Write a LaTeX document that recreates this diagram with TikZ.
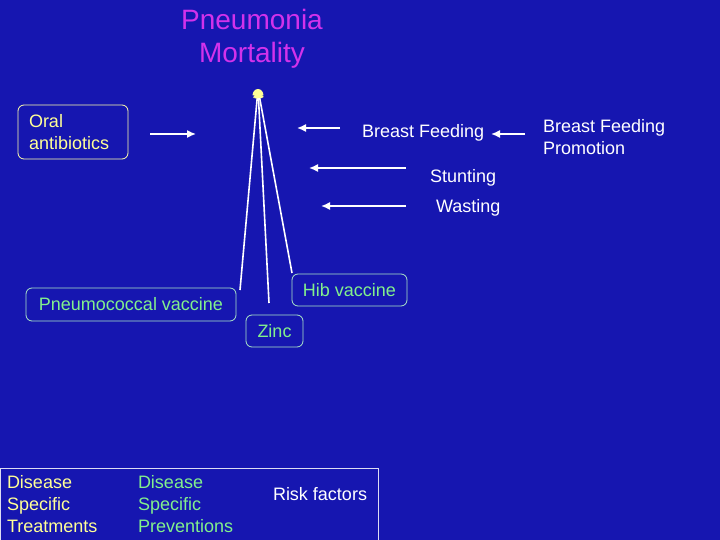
\documentclass[tikz,border=0pt]{standalone}
\usepackage{fontspec}
\setmainfont{Liberation Sans}
\usetikzlibrary{arrows.meta}
\definecolor{bg}{RGB}{22,22,176}
\definecolor{mag}{RGB}{210,50,235}
\definecolor{yel}{RGB}{255,255,150}
\definecolor{grn}{RGB}{130,240,140}
\definecolor{boxline}{RGB}{170,230,200}
\tikzset{
  every node/.style={inner sep=0pt, outer sep=0pt},
  big/.style={font=\fontsize{18}{22}\selectfont},
  lbl/.style={big, text=white, anchor=base west},
  rbox/.style={draw=boxline, line width=0.8pt, rounded corners=6pt, big},
  arr/.style={white, line width=1.5pt, -{Latex[length=9pt,width=8pt]}},
  spoke/.style={white, line width=1.6pt, -{Latex[length=9pt,width=9pt,color=yel,fill=yel]}}
}
\begin{document}
\begin{tikzpicture}[x=1pt,y=-1pt]
\fill[bg] (0,0) rectangle (720,540);
\useasboundingbox (0,0) rectangle (720,540);

% title
\node[font=\fontsize{28}{33}\selectfont, text=mag, align=center, anchor=north] (title) at (252,9) {Pneumonia\\ Mortality};

% boxes
\node[rbox, draw=yel!80!white, text=yel, anchor=north west, minimum width=110pt, minimum height=54pt, text width=88pt, align=left] (oral) at (18,105) {Oral\\antibiotics};
\node[rbox, text=grn, anchor=north west, minimum width=210pt, minimum height=33pt] (pneu) at (26,288) {Pneumococcal vaccine};
\node[rbox, text=grn, anchor=north west, minimum width=115pt, minimum height=32pt] (hib) at (292,274) {Hib vaccine};
\node[rbox, text=grn, anchor=north west, minimum width=57pt, minimum height=32pt] (zinc) at (246,315) {Zinc};

% risk factor labels
\node[lbl] (bf) at (362,138) {Breast Feeding};
\node[big, text=white, anchor=north west, align=left] (bfp) at (543,119.5) {Breast Feeding\\Promotion};
\node[lbl] (stunt) at (430,183) {Stunting};
\node[lbl] (wast) at (436,213) {Wasting};

% arrows
\coordinate (oalend) at (150,134);
\coordinate (oarend) at (196,134);
\draw[arr] (oalend) -- (oarend);
\coordinate (bfs) at (340,128);
\coordinate (bfe) at (297,128);
\draw[arr] (bfs) -- (bfe);
\coordinate (bfps) at (525,134);
\coordinate (bfpe) at (491,134);
\draw[arr] (bfps) -- (bfpe);
\coordinate (sts) at (406,168);
\coordinate (ste) at (309,168);
\draw[arr] (sts) -- (ste);
\coordinate (was) at (406,206);
\coordinate (wae) at (321,206);
\draw[arr] (was) -- (wae);

% spokes to apex
\coordinate (apex) at (258,89);
\coordinate (pend) at (240,290);
\coordinate (zend) at (269,303);
\coordinate (hend) at (292,273);
\draw[spoke] (pend) -- (apex);
\draw[spoke] (zend) -- (apex);
\draw[spoke] (hend) -- (apex);
\fill[yel] ([xshift=-5.5pt,yshift=-6.5pt]apex) arc[start angle=180, end angle=0, x radius=5.5pt, y radius=6.5pt] -- cycle;

% legend
\node[draw=white!85!bg, line width=0.8pt, anchor=north west, minimum width=378pt, minimum height=74pt] (legend) at (0,468) {};
\node[big, text=yel, anchor=north west, align=left] (dst) at (7,475.5) {Disease\\Specific\\Treatments};
\node[big, text=grn, anchor=north west, align=left] (dsp) at (138,475) {Disease\\Specific\\Preventions};
\node[lbl] (rf) at (273,500) {Risk factors};
\end{tikzpicture}
\end{document}
